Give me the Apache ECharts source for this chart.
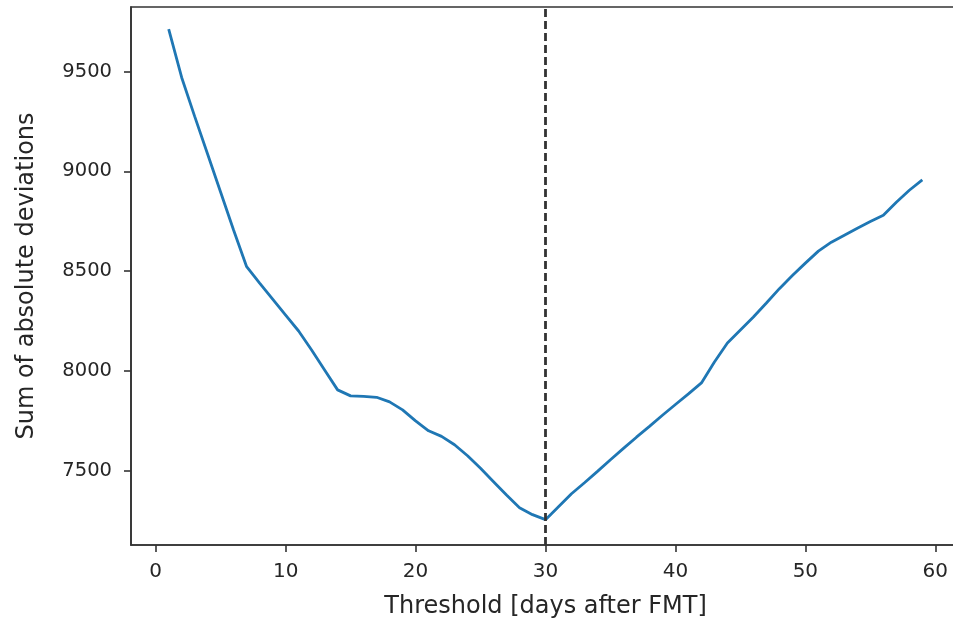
<!DOCTYPE html>
<html>
<head>
<meta charset="utf-8">
<script src="https://cdn.jsdelivr.net/npm/echarts@6/dist/echarts.min.js"></script>
<style>html,body{margin:0;padding:0;background:#fff;}#c{width:953px;height:624px;}</style>
</head>
<body>
<div id="c"></div>
<script>
const days = [1,2,3,4,5,6,7,8,9,10,11,12,13,14,15,16,17,18,19,20,21,22,23,24,25,26,27,28,29,30,31,32,33,34,35,36,37,38,39,40,41,42,43,44,45,46,47,48,49,50,51,52,53,54,55,56,57,58,59];
const deviations = [9712,9470,9275,9085,8895,8705,8522,8440,8360,8280,8200,8105,8005,7905,7875,7872,7868,7845,7805,7750,7700,7672,7630,7575,7512,7445,7378,7315,7280,7255,7320,7385,7440,7497,7555,7612,7668,7722,7778,7832,7885,7940,8045,8140,8205,8270,8340,8412,8478,8540,8600,8645,8680,8715,8748,8780,8845,8905,8957];
const thresholdDay = 30;
const xTicks = [0,10,20,30,40,50,60];
const yTicks = [7500,8000,8500,9000,9500];
const xLabel = 'Threshold [days after FMT]';
const yLabel = 'Sum of absolute deviations';

const chart = echarts.init(document.getElementById('c'), null, {renderer:'canvas'});
const font = 'DejaVu Sans';
const ink = '#262626';
chart.setOption({
  animation:false,
  backgroundColor:'#fff',
  grid:{left:131, top:7, width:829, height:538, show:true, borderColor:'#333', borderWidth:1.6, backgroundColor:'transparent', containLabel:false, outerBoundsMode:'none'},
  xAxis:{type:'value', min:-1.9, max:61.9,
    name:xLabel, nameLocation:'middle', nameGap:50,
    nameTextStyle:{fontFamily:font, fontSize:24, color:ink},
    axisLine:{show:true, onZero:false, lineStyle:{color:'#333', width:1.6}},
    axisTick:{show:true, length:7, lineStyle:{color:'#333', width:1.6}, customValues:xTicks},
    axisLabel:{fontFamily:font, fontSize:20, color:ink, margin:17, customValues:xTicks, formatter:v=>String(v)},
    splitLine:{show:false}},
  yAxis:{type:'value', min:7128, max:9823,
    name:yLabel, nameLocation:'middle', nameGap:92,
    nameTextStyle:{fontFamily:font, fontSize:24, color:ink},
    axisLine:{show:true, onZero:false, lineStyle:{color:'#333', width:1.6}},
    axisTick:{show:true, length:7, lineStyle:{color:'#333', width:1.6}, customValues:yTicks},
    axisLabel:{fontFamily:font, fontSize:19.5, color:ink, margin:19, customValues:yTicks, formatter:v=>String(v)},
    splitLine:{show:false}},
  series:[{
    type:'line', data:days.map((d,i)=>[d,deviations[i]]),
    showSymbol:false, symbol:'none', smooth:false,
    lineStyle:{color:'#1f77b4', width:2.8},
    markLine:{silent:true, symbol:['none','none'], label:{show:false},
      lineStyle:{color:'#333', width:2.8, type:[8,4]},
      data:[{xAxis:thresholdDay}]},
    z:2
  }]
});
</script>
</body>
</html>
